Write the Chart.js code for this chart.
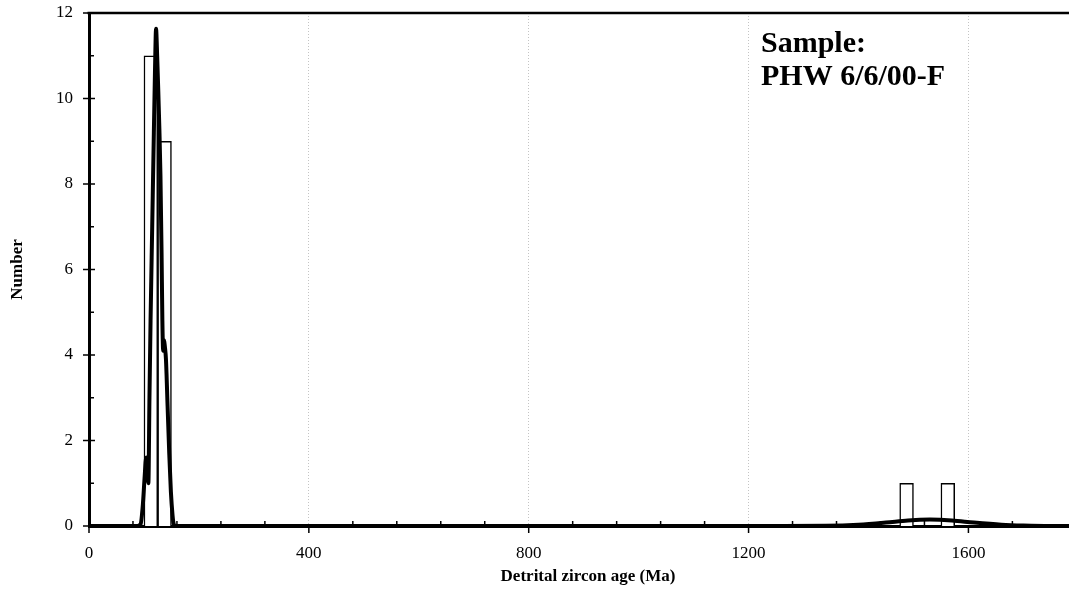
<!DOCTYPE html>
<html>
<head>
<meta charset="utf-8">
<script src="https://cdn.jsdelivr.net/npm/chart.js@4.4.0/dist/chart.umd.min.js"></script>
<style>
  html, body { margin: 0; padding: 0; background: #fff; }
</style>
</head>
<body>
<canvas id="chart" width="1069" height="590"></canvas>
<script>
// histogram bins (25 Ma wide), centres and counts
const binCenters = [112.5, 137.5, 1487.5, 1562.5];
const binCounts = [11, 9, 1, 1];

// probability density curve
const curveAges = [0, 88, 94, 98, 101, 104, 106, 108, 110, 112, 115, 118, 120, 122, 124, 126, 128, 130, 132, 133.5, 135, 136.5, 138, 140, 143, 146, 149, 152, 154, 157,
  1250, 1340, 1400, 1450, 1490, 1530, 1570, 1610, 1660, 1700, 1750, 1783];
const curveValues = [0, 0, 0.05, 0.5, 1.1, 1.6, 1.5, 1.0, 3.0, 4.8, 7.0, 9.2, 10.6, 11.63, 11.0, 10.2, 9.3, 8.2, 6.4, 4.8, 4.1, 4.35, 4.2, 3.9, 2.8, 1.7, 0.8, 0.25, 0.05, 0,
  0, 0.005, 0.03, 0.08, 0.13, 0.15, 0.13, 0.08, 0.03, 0.01, 0, 0];

const xTickLabels = [0, 400, 800, 1200, 1600];
const yTickLabels = [0, 2, 4, 6, 8, 10, 12];
const sampleText = ['Sample:', 'PHW 6/6/00-F'];
const xTitle = 'Detrital zircon age (Ma)';
const yTitle = 'Number';

const serif = "'Liberation Serif', 'Times New Roman', serif";

const decorations = {
  id: 'decorations',
  afterDraw(chart) {
    const {ctx, chartArea: a, scales: {x, y}} = chart;
    ctx.save();
    ctx.strokeStyle = '#000';
    ctx.lineWidth = 1.5;
    x.ticks.forEach(t => {
      const px = x.getPixelForValue(t.value);
      ctx.beginPath();
      if (xTickLabels.includes(t.value)) {
        ctx.moveTo(px, a.bottom);
        ctx.lineTo(px, a.bottom + 7);
      } else {
        ctx.moveTo(px, a.bottom - 5);
        ctx.lineTo(px, a.bottom);
      }
      ctx.stroke();
    });
    y.ticks.forEach(t => {
      const py = y.getPixelForValue(t.value);
      ctx.beginPath();
      if (yTickLabels.includes(t.value)) {
        ctx.moveTo(a.left - 6, py);
        ctx.lineTo(a.left + 6, py);
      } else {
        ctx.moveTo(a.left, py);
        ctx.lineTo(a.left + 5, py);
      }
      ctx.stroke();
    });
    // top frame line
    ctx.lineWidth = 2.5;
    ctx.beginPath();
    ctx.moveTo(a.left - 1.5, a.top);
    ctx.lineTo(a.right, a.top);
    ctx.stroke();

    ctx.fillStyle = '#000';
    ctx.textBaseline = 'alphabetic';
    ctx.textAlign = 'center';
    ctx.font = 'bold 17px ' + serif;
    ctx.fillText(xTitle, 588, 581);

    ctx.textAlign = 'left';
    ctx.font = 'bold 30px ' + serif;
    ctx.fillText(sampleText[0], 761, 52);
    ctx.fillText(sampleText[1], 761, 85);
    ctx.restore();
  }
};

new Chart(document.getElementById('chart'), {
  type: 'bar',
  data: {
    datasets: [
      {
        type: 'line',
        data: curveAges.map((a, i) => ({x: a, y: curveValues[i]})),
        borderColor: '#000',
        borderWidth: 4,
        pointRadius: 0,
        cubicInterpolationMode: 'monotone',
        fill: false,
        order: 0
      },
      {
        type: 'bar',
        data: binCenters.map((c, i) => ({x: c, y: binCounts[i]})),
        backgroundColor: '#fff',
        borderColor: '#000',
        borderWidth: 1.5,
        barPercentage: 1,
        categoryPercentage: 1,
        order: 1
      }
    ]
  },
  options: {
    responsive: false,
    animation: false,
    layout: {padding: 0},
    plugins: {legend: {display: false}, tooltip: {enabled: false}},
    scales: {
      x: {
        type: 'linear',
        min: 0,
        max: 1783,
        offset: false,
        afterBuildTicks: s => { s.ticks = s.ticks.filter(t => t.value % 80 === 0); },
        afterFit: s => { s.height = 64; },
        ticks: {
          stepSize: 80,
          autoSkip: false,
          maxRotation: 0,
          padding: 17,
          color: '#000',
          font: {family: serif, size: 17},
          callback: v => xTickLabels.includes(v) ? v : ''
        },
        grid: {
          offset: false,
          drawTicks: false,
          lineWidth: 1,
          color: c => (c.tick && c.tick.value % 400 === 0 && c.tick.value > 0) ? '#c4c4c4' : 'rgba(0,0,0,0)'
        },
        border: {display: true, width: 3, color: '#000', dash: [1, 2]}
      },
      y: {
        min: 0,
        max: 12,
        afterFit: s => { s.width = 89; s.paddingTop = 13; s.paddingBottom = 0; },
        ticks: {
          stepSize: 1,
          autoSkip: false,
          padding: 16,
          color: '#000',
          font: {family: serif, size: 17},
          callback: v => yTickLabels.includes(v) ? v : ''
        },
        grid: {display: false, drawTicks: false},
        border: {display: true, width: 3, color: '#000'},
        title: {
          display: true,
          text: yTitle,
          color: '#000',
          font: {family: serif, size: 17, weight: 'bold'},
          padding: {top: 7, bottom: 0}
        }
      }
    }
  },
  plugins: [decorations]
});
</script>
</body>
</html>
